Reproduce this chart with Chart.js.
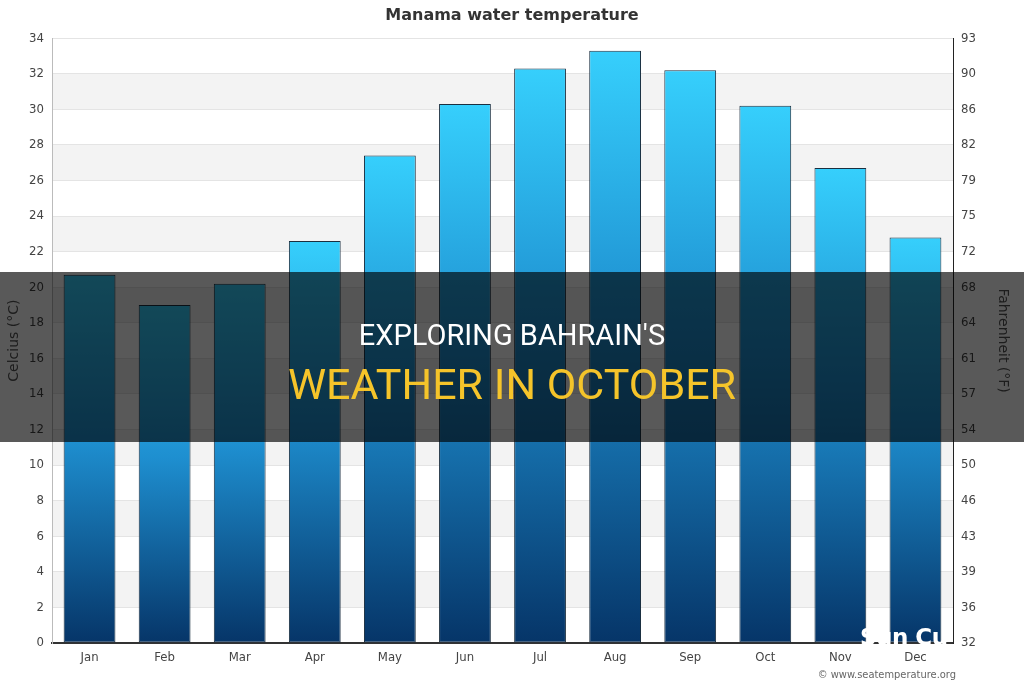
<!DOCTYPE html>
<html>
<head>
<meta charset="utf-8">
<script src="https://cdn.jsdelivr.net/npm/chart.js@4.4.0/dist/chart.umd.min.js"></script>
<style>
  html, body { margin: 0; padding: 0; background: #fff; }
  #wrap { position: relative; width: 1024px; height: 682px; overflow: hidden; }
  #c { position: absolute; left: 0; top: 0; }
  #band { position: absolute; left: 0; top: 272px; width: 1024px; height: 170px; background: rgba(0,0,0,0.65); }
  #l1 { position: absolute; left: 0; width: 1024px; top: 316px; text-align: center; color: #fff;
        font-family: Roboto, "Open Sans", sans-serif; font-size: 29px; line-height: 38px; }
  #l2 { position: absolute; left: 0; width: 1024px; top: 356px; text-align: center; color: #f5c42a;
        font-family: Roboto, "Open Sans", sans-serif; font-size: 43px; line-height: 56px; }
  #logo { position: absolute; left: 860px; top: 624px; color: #fff; font-family: "DejaVu Sans", sans-serif;
          font-weight: bold; font-size: 23px; letter-spacing: -0.5px; }
  #copy { position: absolute; right: 68px; top: 668px; color: #666; font-family: "DejaVu Sans Condensed", "DejaVu Sans", sans-serif; font-size: 11px; }
</style>
</head>
<body>
<div id="wrap">
  <canvas id="c" width="1024" height="682"></canvas>
  <div id="band"></div>
  <div id="l1">EXPLORING BAHRAIN'S</div>
  <div id="l2">WEATHER IN OCTOBER</div>
  <div id="logo">Sun Cu</div>
  <div id="copy">© www.seatemperature.org</div>
</div>
<script>
const months = ["Jan","Feb","Mar","Apr","May","Jun","Jul","Aug","Sep","Oct","Nov","Dec"];
const waterTempC = [20.7, 19.0, 20.2, 22.6, 27.4, 30.3, 32.3, 33.3, 32.2, 30.2, 26.7, 22.8];
const celsiusTicks = [0,2,4,6,8,10,12,14,16,18,20,22,24,26,28,30,32,34];
const fahrenheitTicks = [32,36,39,43,46,50,54,57,61,64,68,72,75,79,82,86,90,93];
const shadedBands = [[2,4],[6,8],[10,12],[14,16],[18,20],[22,24],[26,28],[30,32]];

const tickFont = { family: "DejaVu Sans Condensed, DejaVu Sans, sans-serif", size: 13 };

const bandsPlugin = {
  id: 'bands',
  beforeDraw(chart) {
    const { ctx, chartArea, scales } = chart;
    const y = scales.y;
    ctx.save();
    ctx.fillStyle = '#f3f3f3';
    shadedBands.forEach(([a, b]) => {
      const top = y.getPixelForValue(b), bot = y.getPixelForValue(a);
      ctx.fillRect(chartArea.left, top, chartArea.right - chartArea.left, bot - top);
    });
    ctx.restore();
  }
};

function barGradient(context) {
  const chart = context.chart;
  const y = chart.scales && chart.scales.y;
  if (!chart.chartArea || !y) return '#1e88c8';
  const v = context.raw;
  const top = y.getPixelForValue(v), bot = y.getPixelForValue(0);
  const g = chart.ctx.createLinearGradient(0, top, 0, bot);
  g.addColorStop(0, '#36cffc');
  g.addColorStop(0.45, '#1e8fd0');
  g.addColorStop(1, '#063568');
  return g;
}

new Chart(document.getElementById('c'), {
  type: 'bar',
  data: {
    labels: months,
    datasets: [{
      data: waterTempC,
      backgroundColor: barGradient,
      borderColor: '#1b2f40',
      borderWidth: 1,
      borderSkipped: false,
      categoryPercentage: 1,
      barPercentage: 0.69,
      yAxisID: 'y'
    }]
  },
  options: {
    responsive: false,
    animation: false,
    devicePixelRatio: 1,
    layout: { padding: 0 },
    plugins: {
      legend: { display: false },
      tooltip: { enabled: false },
      title: {
        display: true,
        text: 'Manama water temperature',
        color: '#333',
        font: { family: 'DejaVu Sans, sans-serif', size: 16, weight: 'bold' },
        padding: { top: 6, bottom: 13 }
      }
    },
    scales: {
      x: {
        grid: { display: false, drawTicks: false },
        border: { display: true, color: '#333', width: 2 },
        ticks: { color: '#444', font: tickFont, padding: 7 },
        afterFit(s) { s.height = 39; }
      },
      y: {
        position: 'left',
        min: 0, max: 34,
        afterBuildTicks(s) { s.ticks = celsiusTicks.map(v => ({ value: v })); },
        grid: { color: '#e4e4e4', drawTicks: false },
        border: { display: true, color: '#bbb', width: 1 },
        ticks: { color: '#444', font: tickFont, padding: 8 },
        title: { display: true, text: 'Celcius (°C)', color: '#555',
                 font: { family: 'DejaVu Sans, sans-serif', size: 14 }, padding: { top: 6, bottom: 0 } },
        afterFit(s) { s.width = 52; }
      },
      y2: {
        position: 'right',
        min: 0, max: 34,
        afterBuildTicks(s) { s.ticks = celsiusTicks.map(v => ({ value: v })); },
        grid: { display: false, drawTicks: false },
        border: { display: true, color: '#222', width: 1 },
        ticks: { color: '#444', font: tickFont, padding: 8,
                 callback: (v, i) => fahrenheitTicks[i] },
        title: { display: true, text: 'Fahrenheit (°F)', color: '#555',
                 font: { family: 'DejaVu Sans, sans-serif', size: 14 }, padding: { top: 13, bottom: 0 } },
        afterFit(s) { s.width = 71; }
      }
    }
  },
  plugins: [bandsPlugin]
});
</script>
</body>
</html>
